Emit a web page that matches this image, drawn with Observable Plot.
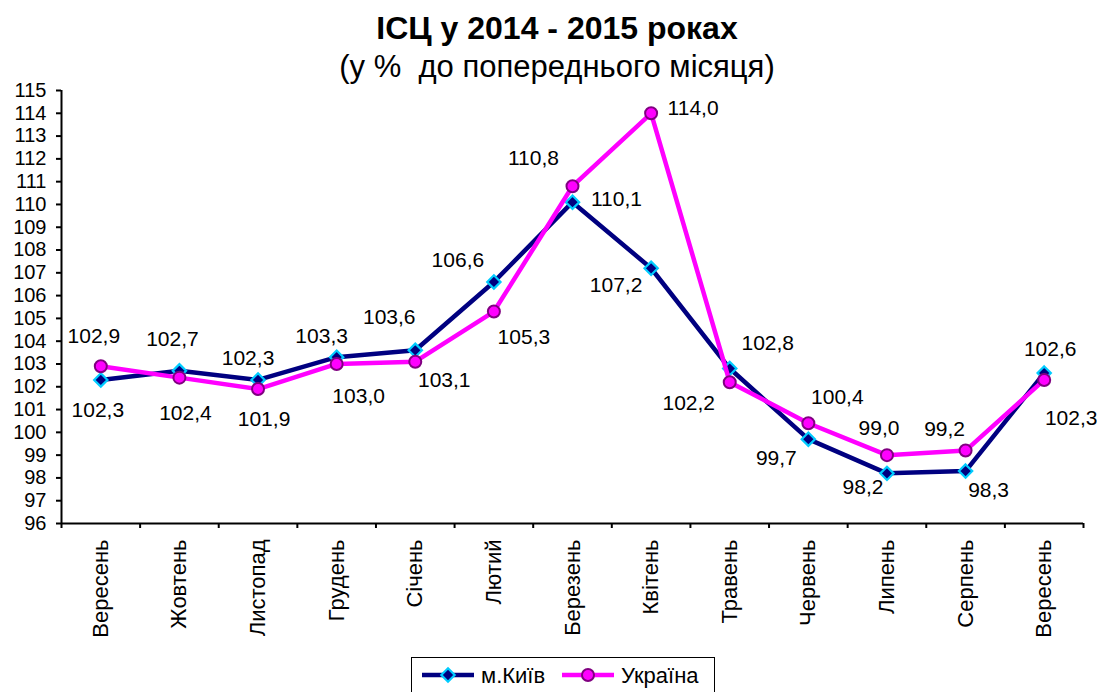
<!DOCTYPE html>
<html><head><meta charset="utf-8">
<script src="https://cdn.jsdelivr.net/npm/d3@7"></script>
<script src="https://cdn.jsdelivr.net/npm/@observablehq/plot@0.6"></script>
<style>
body{margin:0;background:#fff;font-family:"Liberation Sans",Arial,sans-serif;}
#wrap{position:relative;width:1097px;height:692px;overflow:hidden;background:#fff}
#head{height:80px;position:relative}
#title{position:absolute;left:0;width:1114px;top:11px;text-align:center;font-weight:bold;font-size:32px;line-height:34px}
#sub{position:absolute;left:0;width:1114px;top:50px;text-align:center;font-size:31px;line-height:34px}
#legend{position:absolute;left:411px;top:657px;width:304px;height:44px;border:1.5px solid #000;box-sizing:border-box}
#legend svg{position:absolute;left:0;top:0}
#chart g[aria-label="y-axis tick label"] text{font-size:20px !important}
#chart g[aria-label="x-axis tick label"] text{font-size:22px !important}
</style></head>
<body><div id="wrap">
<div id="head"><div id="title">ІСЦ у 2014 - 2015 роках</div><div id="sub">(у %&nbsp; до попереднього місяця)</div></div>
<div id="chart"></div>
<div id="legend"></div>
</div>
<script>
const months = ["Вересень","Жовтень","Листопад","Грудень","Січень","Лютий","Березень","Квітень","Травень","Червень","Липень","Серпень","Вересень"];
const kyiv = [102.3,102.7,102.3,103.3,103.6,106.6,110.1,107.2,102.8,99.7,98.2,98.3,102.6];
const ukraine = [102.9,102.4,101.9,103.0,103.1,105.3,110.8,114.0,102.2,100.4,99.0,99.2,102.3];
const seriesNames = ["м.Київ","Україна"];
const yTicks = d3.range(96,116);

// label offsets (layout only)
const kyivDx = [-3,-7,-10,-15,-26,-36,44,-35,38,-32,-24,23,6];
const kyivDy = [30,-32,-22,-21,-33,-22,-3,17,-25,19,14,19,-24];
const ukrDx = [-7,6,6,22,29,30,-39,42,-41,29,-8,-21,27];
const ukrDy = [-30,36,30,32,19,26,-28,-5,21,-26,-27,-21,38];

const data = months.map((m,i)=>({i, month:m, kyiv:kyiv[i], ukraine:ukraine[i]}));
const fmt = v => v.toFixed(1).replace(".", ",");

const labelMarks = [];
data.forEach((d,k)=>{
  labelMarks.push(Plot.text([d],{x:"i",y:"kyiv",text:r=>fmt(r.kyiv),dx:kyivDx[k],dy:kyivDy[k],fontSize:21,fill:"#000"}));
  labelMarks.push(Plot.text([d],{x:"i",y:"ukraine",text:r=>fmt(r.ukraine),dx:ukrDx[k],dy:ukrDy[k],fontSize:21,fill:"#000"}));
});

const chart = Plot.plot({
  width:1097, height:560,
  marginLeft:61, marginRight:14, marginTop:10, marginBottom:117,
  style:{fontFamily:"Liberation Sans, Arial, sans-serif", fontSize:"20px", color:"#000", background:"#fff"},
  x:{type:"linear", domain:[-0.5,12.5], axis:null},
  y:{domain:[96,115], axis:null},
  marks:[
    Plot.axisY({ticks:yTicks, tickSize:5, tickPadding:10, strokeWidth:2, tickFormat:d=>d, label:null}),
    Plot.axisX({ticks:d3.range(-0.5,13,1), tickSize:5, tickFormat:()=>"", strokeWidth:2, label:null}),
    Plot.axisX({ticks:d3.range(0,13), tickSize:0, tickPadding:16, tickRotate:-90, tickFormat:i=>months[i], label:null}),
    Plot.ruleY([96],{stroke:"#000",strokeWidth:2}),
    Plot.ruleX([-0.5],{stroke:"#000",strokeWidth:2}),
    Plot.line(data,{x:"i",y:"kyiv",stroke:"#000080",strokeWidth:4.5}),
    Plot.dot(data,{x:"i",y:"kyiv",symbol:"diamond2",r:6,fill:"#000080",stroke:"#00ccff",strokeWidth:2.2}),
    Plot.line(data,{x:"i",y:"ukraine",stroke:"#ff00ff",strokeWidth:4.5}),
    Plot.dot(data,{x:"i",y:"ukraine",symbol:"circle",r:6,fill:"#ff00ff",stroke:"#800080",strokeWidth:2}),
    ...labelMarks
  ]
});
document.getElementById("chart").appendChild(chart);

// legend
const lg = d3.select("#legend").append("svg").attr("width",304).attr("height",44);
const items = [
  {x0:10, name:seriesNames[0], color:"#000080", sym:"diamond"},
  {x0:150, name:seriesNames[1], color:"#ff00ff", sym:"circle"}
];
items.forEach(it=>{
  lg.append("line").attr("x1",it.x0).attr("x2",it.x0+52).attr("y1",17).attr("y2",17).attr("stroke",it.color).attr("stroke-width",4.5);
  if(it.sym==="diamond"){
    lg.append("path").attr("d",d3.symbol(d3.symbolDiamond2, Math.PI*36)()).attr("transform",`translate(${it.x0+26},17)`).attr("fill","#000080").attr("stroke","#00ccff").attr("stroke-width",2.2);
  } else {
    lg.append("circle").attr("cx",it.x0+26).attr("cy",17).attr("r",6).attr("fill","#ff00ff").attr("stroke","#800080").attr("stroke-width",2);
  }
  lg.append("text").attr("x",it.x0+59).attr("y",25).text(it.name).attr("font-size",22).attr("font-family","Liberation Sans, Arial, sans-serif");
});
</script>
</body></html>
